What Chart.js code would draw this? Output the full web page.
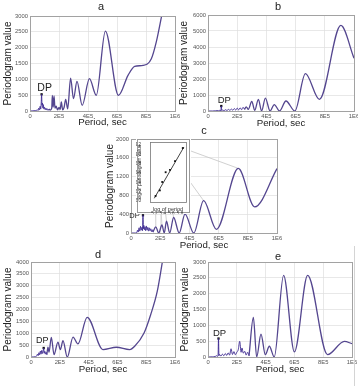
<!DOCTYPE html>
<html>
<head>
<meta charset="utf-8">
<script src="https://cdn.jsdelivr.net/npm/chart.js@4.4.0/dist/chart.umd.min.js"></script>
<style>
  body { margin: 0; background: #fff; }
  #wrap { position: relative; width: 358px; height: 386px; overflow: hidden; }
  canvas { position: absolute; }
  #edge { position: absolute; left: 354px; top: 246px; width: 1px; height: 140px; background: #d4d4d4; }
</style>
</head>
<body>
<div id="wrap">
  <canvas id="pa" style="left:0px;top:0px" width="182" height="130"></canvas>
  <canvas id="pb" style="left:178px;top:0px" width="180" height="130"></canvas>
  <canvas id="pd" style="left:0px;top:248px" width="182" height="132"></canvas>
  <canvas id="pe" style="left:178px;top:248px" width="180" height="132"></canvas>
  <canvas id="pc" style="left:88px;top:122px" width="200" height="130"></canvas>
  <canvas id="pin" style="left:136px;top:138px" width="55" height="76"></canvas>
  <div id="edge"></div>
</div>
<script>
'use strict';

// x values are in units of 1E5 sec
const xTickLabels = ['0', '2E5', '4E5', '6E5', '8E5', '1E6'];

// panel a
const aNoiseX = [0, 0.2, 0.35, 0.45, 0.5, 0.55, 0.6, 0.65, 0.7, 0.74, 0.77, 0.8, 0.83, 0.86, 0.89, 0.92, 0.96, 1.0, 1.05, 1.1, 1.15, 1.2, 1.25, 1.3];
const aNoiseY = [0, 5, 10, 20, 40, 15, 90, 30, 150, 60, 220, 527, 180, 250, 90, 200, 60, 120, 40, 90, 30, 70, 20, 60];
const aCurveX = [1.3, 1.4, 1.5, 1.54, 1.6, 1.66, 1.72, 1.8, 1.9, 2.0, 2.08, 2.16, 2.25, 2.35, 2.46, 2.6, 2.8, 3.0, 3.24, 3.6, 4.1, 4.57, 5.2, 6.1, 6.76, 7.22, 7.8, 8.37, 8.71, 9.1];
const aCurveY = [60, 30, 90, 495, 120, 475, 90, 150, 40, 110, 50, 285, 40, 110, 370, 70, 1040, 390, 935, 180, 1020, 495, 2525, 495, 1125, 1410, 1440, 1650, 2180, 3050];

// panel b
const bNoiseX = [0, 0.3, 0.5, 0.6, 0.7, 0.8, 0.88, 0.91, 0.94, 1.0, 1.1, 1.2, 1.3, 1.4, 1.5, 1.6, 1.7, 1.8, 1.9, 2.0, 2.1, 2.2, 2.3, 2.4, 2.5];
const bNoiseY = [0, 0, 10, 30, 10, 40, 20, 312, 30, 60, 20, 80, 30, 100, 40, 120, 50, 150, 60, 180, 70, 200, 80, 230, 100];
const bCurveX = [2.5, 2.62, 2.76, 3.0, 3.2, 3.45, 3.67, 3.93, 4.25, 4.54, 4.9, 5.34, 5.95, 6.67, 7.63, 9.1, 10];
const bCurveY = [100, 260, 100, 600, 40, 730, 0, 810, 0, 400, 0, 625, 0, 2330, 730, 5350, 3300];

// panel c
const cNoiseX = [0, 0.3, 0.4, 0.45, 0.5, 0.55, 0.6, 0.65, 0.7, 0.75, 0.79, 0.82, 0.85, 0.88, 0.92, 0.96, 1.0, 1.05, 1.1, 1.15, 1.2, 1.25, 1.3, 1.35, 1.4, 1.45, 1.5];
const cNoiseY = [0, 0, 10, 60, 20, 110, 40, 140, 60, 120, 50, 377, 90, 160, 70, 130, 50, 150, 60, 120, 40, 110, 50, 90, 30, 70, 20];
const cCurveX = [1.5, 1.7, 1.9, 2.12, 2.28, 2.43, 2.65, 2.92, 3.3, 3.7, 4.3, 4.97, 5.85, 7.35, 8.47, 10];
const cCurveY = [20, 130, 0, 170, 0, 250, 0, 330, 0, 400, 0, 690, 78, 1375, 555, 1370];
// peaks of c that the inset points are tied to
const cLinkX = [1.7, 2.12, 2.43, 2.92, 3.7, 4.97, 7.35];
const cLinkY = [130, 170, 250, 330, 400, 690, 1375];

// inset of c: log of period vs log of periodogram value
const insetX = [5.23, 5.33, 5.385, 5.465, 5.566, 5.684, 5.865];
const insetY = [2.11, 2.23, 2.41, 2.62, 2.67, 2.86, 3.14];
const insetFitX = [5.2, 5.89];
const insetFitY = [2.06, 3.16];

// panel d
const dNoiseX = [0, 0.3, 0.4, 0.45, 0.5, 0.55, 0.6, 0.65, 0.7, 0.75, 0.8, 0.85, 0.88, 0.92, 0.96, 1.0, 1.05, 1.1];
const dNoiseY = [0, 10, 50, 120, 60, 180, 90, 250, 120, 280, 150, 260, 380, 160, 240, 120, 200, 100];
const dCurveX = [1.1, 1.18, 1.25, 1.41, 1.6, 1.87, 2.04, 2.22, 2.52, 2.92, 3.26, 3.9, 5.0, 5.93, 6.85, 7.2, 7.85, 8.31, 8.77, 9.15];
const dCurveY = [100, 420, 200, 830, 100, 630, 310, 690, 0, 840, 550, 1670, 310, 410, 310, 450, 1010, 1780, 2770, 4100];

// panel e
const eNoiseX = [0, 0.3, 0.5, 0.6, 0.65, 0.7, 0.73, 0.76, 0.8, 0.9, 1.0, 1.1, 1.2, 1.3, 1.4, 1.5, 1.6, 1.7, 1.8, 1.9, 2.0, 2.1, 2.2, 2.3, 2.36, 2.45, 2.55, 2.65, 2.75, 2.85];
const eNoiseY = [0, 5, 15, 40, 20, 60, 584, 40, 80, 30, 90, 40, 110, 50, 130, 60, 260, 80, 170, 70, 150, 230, 495, 150, 285, 120, 180, 60, 150, 40];
const eCurveX = [2.85, 3.15, 3.38, 3.68, 3.98, 4.26, 4.6, 5.25, 6.0, 6.92, 8.3, 9.47, 10];
const eCurveY = [40, 1250, 0, 725, 75, 340, 0, 2580, 160, 2580, 75, 495, 420];

// DP markers (a..e)
const dpX = [0.8, 0.91, 0.82, 0.88, 0.73];
const dpY = [527, 312, 377, 380, 584];

const FONT = '"Liberation Sans", Arial, sans-serif';
const CURVE = '#54468f';
const NOISE = '#3a2690';
const GRID = '#dedede';
const FRAME = '#a2a2a2';
const TICK = '#555';
const INK = '#222';

Chart.defaults.font.family = FONT;

const toPoints = (xs, ys) => xs.map((x, i) => ({ x: x, y: ys[i] }));

let chartC = null;
let chartIn = null;

// page-coordinate segments from inset points to the peaks of c
function linkSegments() {
  if (!chartC || !chartIn) return [];
  const sx = chartC.scales.x, sy = chartC.scales.y;
  const ix = chartIn.scales.x, iy = chartIn.scales.y;
  const cEl = chartC.canvas, iEl = chartIn.canvas;
  return insetX.map((v, i) => [
    ix.getPixelForValue(v) + iEl.offsetLeft, iy.getPixelForValue(insetY[i]) + iEl.offsetTop,
    sx.getPixelForValue(cLinkX[i]) + cEl.offsetLeft, sy.getPixelForValue(cLinkY[i]) + cEl.offsetTop
  ]);
}

function drawLinks(chart) {
  const ctx = chart.ctx;
  const ox = chart.canvas.offsetLeft, oy = chart.canvas.offsetTop;
  ctx.save();
  ctx.strokeStyle = '#c4c4c4';
  ctx.lineWidth = 0.8;
  linkSegments().forEach(s => {
    ctx.beginPath();
    ctx.moveTo(s[0] - ox, s[1] - oy);
    ctx.lineTo(s[2] - ox, s[3] - oy);
    ctx.stroke();
  });
  ctx.restore();
}

const deco = {
  id: 'deco',
  beforeDatasetsDraw(chart, args, o) {
    if (o.links) drawLinks(chart);
  },
  afterDraw(chart, args, o) {
    const { ctx, chartArea: a } = chart;
    ctx.save();
    ctx.strokeStyle = FRAME;
    ctx.lineWidth = 1;
    ctx.strokeRect(Math.round(a.left) + 0.5, Math.round(a.top) + 0.5, Math.round(a.width), Math.round(a.height));
    ctx.fillStyle = INK;
    ctx.textAlign = 'center';
    ctx.textBaseline = 'middle';
    ctx.font = '11px ' + FONT;
    ctx.fillText(o.letter, o.letterX, o.letterY);
    const p = chart.getDatasetMeta(2).data[0];
    ctx.font = o.dpSize + 'px ' + FONT;
    ctx.fillText('DP', p.x + o.dpDx, p.y + o.dpDy);
    ctx.restore();
  }
};

function makePanel(id, s) {
  return new Chart(document.getElementById(id), {
    type: 'line',
    data: {
      datasets: [
        { data: toPoints(s.noiseX, s.noiseY), borderColor: NOISE, borderWidth: 0.9, pointRadius: 0, cubicInterpolationMode: 'monotone' },
        { data: toPoints(s.curveX, s.curveY), borderColor: CURVE, borderWidth: 1.3, pointRadius: 0, cubicInterpolationMode: 'monotone' },
        { data: [{ x: s.dp[0], y: s.dp[1] }], showLine: false, pointStyle: 'rect', pointRadius: 1.6, backgroundColor: '#111', borderWidth: 0 }
      ]
    },
    options: {
      responsive: false,
      animation: false,
      events: [],
      layout: { padding: { top: s.top, right: s.right, left: 0, bottom: 0 } },
      plugins: {
        legend: { display: false },
        tooltip: { enabled: false },
        deco: s.deco
      },
      scales: {
        x: {
          type: 'linear', min: 0, max: 10,
          ticks: { stepSize: 2, autoSkip: false, maxRotation: 0, padding: 2, color: TICK, font: { size: 5.8 }, callback: (v, i) => xTickLabels[i] },
          grid: { color: GRID, lineWidth: 0.7, drawTicks: false },
          border: { display: false },
          title: { display: true, text: 'Period, sec', color: INK, font: { size: 9.7 }, padding: { top: 0, bottom: s.xTitlePad } },
          afterFit: sc => { sc.height = s.xAxisH; sc.paddingLeft = 0; sc.paddingRight = 0; }
        },
        y: {
          min: 0, max: s.ymax,
          ticks: { stepSize: s.ystep, padding: 2, color: TICK, font: { size: 5.8 }, callback: v => String(v) },
          grid: { color: GRID, lineWidth: 0.7, drawTicks: false },
          border: { display: false },
          title: { display: true, text: 'Periodogram value', color: INK, font: { size: 10 }, padding: { top: s.yTitlePad, bottom: 0 } },
          afterFit: sc => { sc.width = s.yAxisW; sc.paddingTop = 0; sc.paddingBottom = 0; }
        }
      }
    },
    plugins: [deco]
  });
}

makePanel('pa', {
  noiseX: aNoiseX, noiseY: aNoiseY, curveX: aCurveX, curveY: aCurveY, dp: [dpX[0], dpY[0]],
  top: 16, right: 7, xAxisH: 19, yAxisW: 30, ymax: 3000, ystep: 500, xTitlePad: 2, yTitlePad: 2.5,
  deco: { letter: 'a', letterX: 101, letterY: 7, dpSize: 10.5, dpDx: 3, dpDy: -6.5 }
});

makePanel('pb', {
  noiseX: bNoiseX, noiseY: bNoiseY, curveX: bCurveX, curveY: bCurveY, dp: [dpX[1], dpY[1]],
  top: 15, right: 4, xAxisH: 19, yAxisW: 30, ymax: 6000, ystep: 1000, xTitlePad: 1, yTitlePad: 0.7,
  deco: { letter: 'b', letterX: 100, letterY: 7, dpSize: 9.5, dpDx: 3, dpDy: -6 }
});

makePanel('pd', {
  noiseX: dNoiseX, noiseY: dNoiseY, curveX: dCurveX, curveY: dCurveY, dp: [dpX[3], dpY[3]],
  top: 14, right: 7, xAxisH: 23, yAxisW: 31, ymax: 4000, ystep: 500, xTitlePad: 5, yTitlePad: 2.7,
  deco: { letter: 'd', letterX: 98, letterY: 7, dpSize: 9, dpDx: -1.5, dpDy: -7 }
});

makePanel('pe', {
  noiseX: eNoiseX, noiseY: eNoiseY, curveX: eCurveX, curveY: eCurveY, dp: [dpX[4], dpY[4]],
  top: 14, right: 6, xAxisH: 23, yAxisW: 30, ymax: 3000, ystep: 500, xTitlePad: 5, yTitlePad: 1.7,
  deco: { letter: 'e', letterX: 100, letterY: 9, dpSize: 9.5, dpDx: 1, dpDy: -5.5 }
});

chartC = makePanel('pc', {
  noiseX: cNoiseX, noiseY: cNoiseY, curveX: cCurveX, curveY: cCurveY, dp: [dpX[2], dpY[2]],
  top: 17, right: 11, xAxisH: 19, yAxisW: 43, ymax: 2000, ystep: 200, xTitlePad: 1.2, yTitlePad: 16.7,
  deco: { letter: 'c', letterX: 116, letterY: 9, dpSize: 7.5, dpDx: -8.5, dpDy: 0.5, links: true }
});

const insetDeco = {
  id: 'insetDeco',
  beforeDraw(chart) {
    const { ctx, width, height } = chart;
    ctx.save();
    ctx.fillStyle = '#fff';
    ctx.fillRect(0, 0, width, height);
    ctx.strokeStyle = '#9a9a9a';
    ctx.lineWidth = 1;
    ctx.strokeRect(1.5, 1.5, width - 3, height - 3);
    ctx.restore();
  },
  beforeDatasetsDraw(chart) {
    drawLinks(chart);
  },
  afterDraw(chart) {
    const { ctx, chartArea: a } = chart;
    ctx.save();
    ctx.strokeStyle = '#777';
    ctx.lineWidth = 0.8;
    ctx.strokeRect(Math.round(a.left) + 0.5, Math.round(a.top) + 0.5, Math.round(a.width), Math.round(a.height));
    ctx.restore();
  }
};

chartIn = new Chart(document.getElementById('pin'), {
  type: 'scatter',
  data: {
    datasets: [
      { data: toPoints(insetX, insetY), pointStyle: 'rect', pointRadius: 1.3, backgroundColor: '#111', borderWidth: 0 },
      { data: toPoints(insetFitX, insetFitY), showLine: true, borderColor: '#111', borderWidth: 0.8, pointRadius: 0 }
    ]
  },
  options: {
    responsive: false,
    animation: false,
    events: [],
    layout: { padding: { top: 3, right: 5, left: 0, bottom: 0 } },
    plugins: { legend: { display: false }, tooltip: { enabled: false } },
    scales: {
      x: {
        min: 5.1, max: 5.94,
        ticks: { stepSize: 0.2, includeBounds: false, autoSkip: false, maxRotation: 0, padding: 1, color: '#333', font: { size: 4.5 }, callback: v => v.toFixed(1) },
        grid: { display: false },
        border: { display: false },
        title: { display: true, text: 'log of period', color: '#333', font: { size: 5.5 }, padding: { top: 0, bottom: 1 } },
        afterFit: sc => { sc.height = 12; sc.paddingLeft = 0; sc.paddingRight = 0; }
      },
      y: {
        min: 1.98, max: 3.27,
        ticks: { stepSize: 0.2, includeBounds: false, autoSkip: false, padding: 1, color: '#333', font: { size: 4.5 }, callback: v => v.toFixed(1) },
        grid: { display: false },
        border: { display: false },
        title: { display: true, text: 'log of periodogram value', color: '#333', font: { size: 5 }, padding: { top: 1, bottom: 0 } },
        afterFit: sc => { sc.width = 14; sc.paddingTop = 0; sc.paddingBottom = 0; }
      }
    }
  },
  plugins: [insetDeco]
});

// redraw c so its link lines know where the inset points are
chartC.draw();
</script>
</body>
</html>
